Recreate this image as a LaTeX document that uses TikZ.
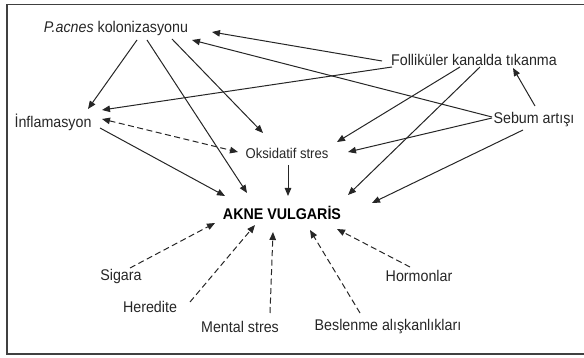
\documentclass[tikz,border=0pt]{standalone}
\usepackage{fontspec}
\setmainfont[FakeStretch=0.92]{Liberation Sans}
\usetikzlibrary{arrows.meta}
\tikzset{
  lbl/.style={inner sep=0pt, font=\fontsize{15.5}{17}\selectfont, text=black!85},
  arr/.style={line width=1pt, draw=black!85, -{Triangle[length=8pt,width=6.5pt]}},
  darr/.style={arr, dash pattern=on 6pt off 3.5pt},
}
\begin{document}
\begin{tikzpicture}[x=1pt,y=-1pt]
\useasboundingbox (0,0) rectangle (584,358);
\clip (0,0) rectangle (584,358);
\draw[line width=1.4pt, draw=black!75] (7,4.5) rectangle (600,354);

\node[lbl] (pac) at (116,28) {\textit{P.acnes} kolonizasyonu};
\node[lbl] (inf) at (53,122) {İnflamasyon};
\node[lbl, font=\fontsize{14.2}{16}\selectfont] (oks) at (287,153) {Oksidatif stres};
\node[lbl] (fol) at (474,60) {Folliküler kanalda tıkanma};
\node[lbl] (seb) at (534,120) {Sebum artışı};
\node[lbl, font=\bfseries\fontsize{15.5}{17}\selectfont, text=black] (akne) at (282,213) {AKNE VULGARİS};
\node[lbl] (sig) at (121,276) {Sigara};
\node[lbl] (her) at (150,307) {Heredite};
\node[lbl] (men) at (240,327) {Mental stres};
\node[lbl] (bes) at (388,327) {Beslenme alışkanlıkları};
\node[lbl] (hor) at (419,276) {Hormonlar};

% solid arrows
\draw[arr] ([shift={(21,12)}]pac.center) -- ([shift={(35,-13)}]inf.center);
\draw[arr] ([shift={(31,12)}]pac.center) -- ([shift={(-35,-20)}]akne.center);
\draw[arr] ([shift={(56,11)}]pac.center) -- ([shift={(-24,-20)}]oks.center);
\draw[arr] ([shift={(-92,1)}]fol.center) -- ([shift={(96,4)}]pac.center);
\draw[arr] ([shift={(-42,-3)}]seb.center) -- ([shift={(76,12)}]pac.center);
\draw[arr] ([shift={(-82,7)}]fol.center) -- ([shift={(49,-12)}]inf.center);
\draw[arr] ([shift={(-14,7)}]fol.center) -- ([shift={(50,-11)}]oks.center);
\draw[arr] ([shift={(6,7)}]fol.center) -- ([shift={(66,-18)}]akne.center);
\draw[arr] ([shift={(1,-14)}]seb.center) -- ([shift={(39,8)}]fol.center);
\draw[arr] ([shift={(-42,-2)}]seb.center) -- ([shift={(61,-1)}]oks.center);
\draw[arr] ([shift={(-11,10)}]seb.center) -- ([shift={(90,-10)}]akne.center);
\draw[arr] ([shift={(47,6)}]inf.center) -- ([shift={(-57,-17)}]akne.center);
\draw[arr] ([shift={(1,12)}]oks.center) -- ([shift={(6,-17)}]akne.center);

% dashed arrows
\draw[darr, {Triangle[length=8pt,width=6.5pt]}-{Triangle[length=8pt,width=6.5pt]}] ([shift={(49,-3)}]inf.center) -- ([shift={(-49,-1)}]oks.center);
\draw[darr] ([shift={(9,-8)}]sig.center) -- ([shift={(-67,10)}]akne.center);
\draw[darr] ([shift={(40,-5)}]her.center) -- ([shift={(-27,12)}]akne.center);
\draw[darr] ([shift={(30,-14)}]men.center) -- ([shift={(-9,19)}]akne.center);
\draw[darr] ([shift={(-28,-14)}]bes.center) -- ([shift={(28,17)}]akne.center);
\draw[darr] ([shift={(-9,-9)}]hor.center) -- ([shift={(55,16)}]akne.center);
\end{tikzpicture}
\end{document}
